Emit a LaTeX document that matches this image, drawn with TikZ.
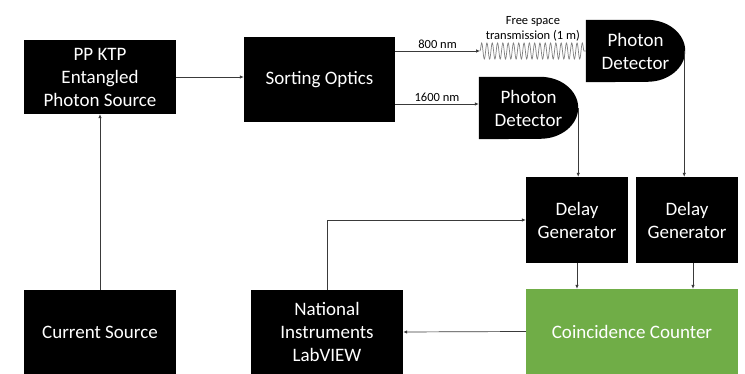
\documentclass[tikz,border=0pt]{standalone}
\usepackage{fontspec}
\setmainfont{Carlito}
\usetikzlibrary{arrows.meta,positioning,backgrounds,decorations.pathmorphing}
\definecolor{cgreen}{HTML}{70AD47}
\definecolor{wire}{HTML}{3A3A3A}

\begin{document}
\begin{tikzpicture}[
    x=1pt, y=1pt,
    box/.style={
        rectangle, fill=black, text=white, inner sep=0pt,
        align=center, font=\fontsize{19}{23}\selectfont
    },
    detector/.style={
        rectangle, text=white, inner sep=0pt,
        minimum width=99pt, minimum height=62pt,
        align=center, font=\fontsize{19}{23}\selectfont
    },
    lbl/.style={font=\fontsize{12.5}{15}\selectfont, align=center, inner sep=1pt},
    arrow/.style={-{Latex[length=4pt,width=3.5pt]}, draw=wire, line width=0.7pt},
    wave/.style={draw=gray, line width=0.7pt,
        decorate, decoration={snake, segment length=5.3pt, amplitude=8pt}}
]
\useasboundingbox (0,0) rectangle (745,374);

\node[box, minimum width=152pt, minimum height=74pt] (src) at (100,297) {PP KTP\\Entangled\\Photon Source};
\node[box, minimum width=151pt, minimum height=85pt] (sort) at (319.5,294.5) {Sorting Optics};
\node[box, minimum width=152pt, minimum height=84pt] (cur) at (100,42) {Current Source};
\node[box, minimum width=152pt, minimum height=84pt] (ni) at (327,42) {National\\Instruments\\LabVIEW};
\node[box, fill=cgreen, minimum width=212pt, minimum height=85pt] (cc) at (632,42.5) {Coincidence Counter};
\node[box, minimum width=102pt, minimum height=86pt] (dg1) at (577,154) {Delay\\Generator};
\node[box, minimum width=102pt, minimum height=86pt] (dg2) at (687,154) {Delay\\Generator};
\node[detector] (pd1) at (635.5,323) {Photon\\Detector};
\node[detector] (pd2) at (528.5,266) {Photon\\Detector};

% D-shaped detector bodies
\begin{scope}[on background layer]
\foreach \d in {pd1,pd2}
    \fill (\d.north west) -- ([xshift=-38pt]\d.north east)
        arc[start angle=90, end angle=-90, x radius=38pt, y radius=31pt]
        -- (\d.south west) -- cycle;
\end{scope}

\coordinate (fs) at (480,323);
\coordinate (ir) at (pd2.west |- 0,270);

\draw[arrow] (cur.north) -- (src.south);
\draw[arrow] (src.east) -- (src.east -| sort.west);
\draw[arrow] (sort.east |- fs) -- node[lbl, above=1pt] {800 nm} (fs);
\draw[wave] (fs) -- (pd1.west);
\path (fs) -- node[lbl, above=9pt] {Free space\\transmission (1 m)} (pd1.west);
\draw[arrow] (sort.east |- ir) -- node[lbl, above=1pt] {1600 nm} (ir);
\draw[arrow] (pd2.east) -- (pd2.east |- dg1.north);
\draw[arrow] ([xshift=-1pt]pd1.east) -- ([xshift=-1pt]pd1.east |- dg2.north);
\draw[arrow] (dg1.south) -- (dg1.south |- cc.north);
\draw[arrow] ([xshift=6pt]dg2.south) -- ([xshift=6pt]dg2.south |- cc.north);
\draw[arrow] (ni.north) |- (dg1.west);
\draw[arrow] (cc.west) -- (ni.east);
\end{tikzpicture}
\end{document}
